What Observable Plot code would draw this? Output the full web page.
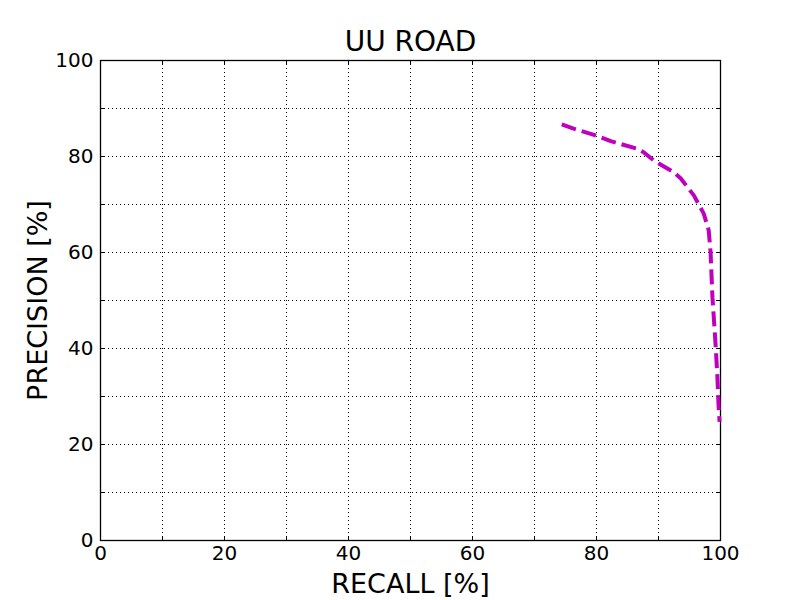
<!DOCTYPE html>
<html>
<head>
<meta charset="utf-8">
<script src="https://cdn.jsdelivr.net/npm/d3@7"></script>
<script src="https://cdn.jsdelivr.net/npm/@observablehq/plot@0.6"></script>
<style>
  html, body { margin: 0; padding: 0; background: #fff; }
  svg { font-family: "DejaVu Sans", sans-serif; }
</style>
</head>
<body>
<div id="chart"></div>
<script>
const title = "UU ROAD";
const xLabel = "RECALL [%]";
const yLabel = "PRECISION [%]";
const recall = [74.4, 76.3, 79.6, 82.3, 86.6, 87.6, 89.2, 92.5, 93.6, 95.7, 97.3, 98.1, 98.4, 98.7, 99.2, 99.5, 99.7, 99.85];
const precision = [86.7, 85.8, 84.5, 83.2, 81.6, 80.9, 79.2, 76.7, 75.4, 71.9, 68.1, 64.6, 60.0, 50.7, 41.0, 34.0, 27.8, 24.7];
const labelTicks = [0, 20, 40, 60, 80, 100];
const gridTicks = [0, 10, 20, 30, 40, 50, 60, 70, 80, 90, 100];

const data = recall.map((r, i) => ({recall: r, precision: precision[i]}));
const blank = () => "";

const chart = Plot.plot({
  width: 800,
  height: 600,
  marginLeft: 100,
  marginRight: 80,
  marginTop: 60,
  marginBottom: 60,
  style: {fontFamily: "DejaVu Sans, sans-serif", background: "white", color: "black"},
  x: {domain: [0, 100]},
  y: {domain: [0, 100]},
  marks: [
    Plot.gridX(gridTicks, {stroke: "black", strokeOpacity: 1, strokeDasharray: "1,3", strokeWidth: 1}),
    Plot.gridY(gridTicks, {stroke: "black", strokeOpacity: 1, strokeDasharray: "1,3", strokeWidth: 1}),
    Plot.axisX({ticks: gridTicks, anchor: "bottom", tickSize: -4, tickFormat: blank, label: null}),
    Plot.axisX({ticks: gridTicks, anchor: "top", tickSize: -4, tickFormat: blank, label: null}),
    Plot.axisY({ticks: gridTicks, anchor: "left", tickSize: -4, tickFormat: blank, label: null}),
    Plot.axisY({ticks: gridTicks, anchor: "right", tickSize: -4, tickFormat: blank, label: null}),
    Plot.axisX({ticks: labelTicks, anchor: "bottom", tickSize: 0, tickPadding: 5, fontSize: 20, label: null}),
    Plot.axisY({ticks: labelTicks, anchor: "left", tickSize: 0, tickPadding: 7, fontSize: 20, label: null}),
    Plot.frame({stroke: "black", strokeWidth: 1.3}),
    Plot.line(data, {x: "recall", y: "precision", stroke: "#bf00bf", strokeWidth: 4, strokeDasharray: "15,6", strokeLinecap: "butt"}),
    Plot.text([title], {text: d => d, frameAnchor: "top", textAnchor: "middle", lineAnchor: "middle", dy: -18, fontSize: 28, fill: "black"}),
    Plot.text([xLabel], {text: d => d, frameAnchor: "bottom", textAnchor: "middle", lineAnchor: "middle", dy: 44, fontSize: 27, fill: "black"}),
    Plot.text([yLabel], {text: d => d, frameAnchor: "left", textAnchor: "middle", lineAnchor: "middle", dx: -62, rotate: -90, fontSize: 27, fill: "black"})
  ]
});
document.getElementById("chart").appendChild(chart);
</script>
</body>
</html>
